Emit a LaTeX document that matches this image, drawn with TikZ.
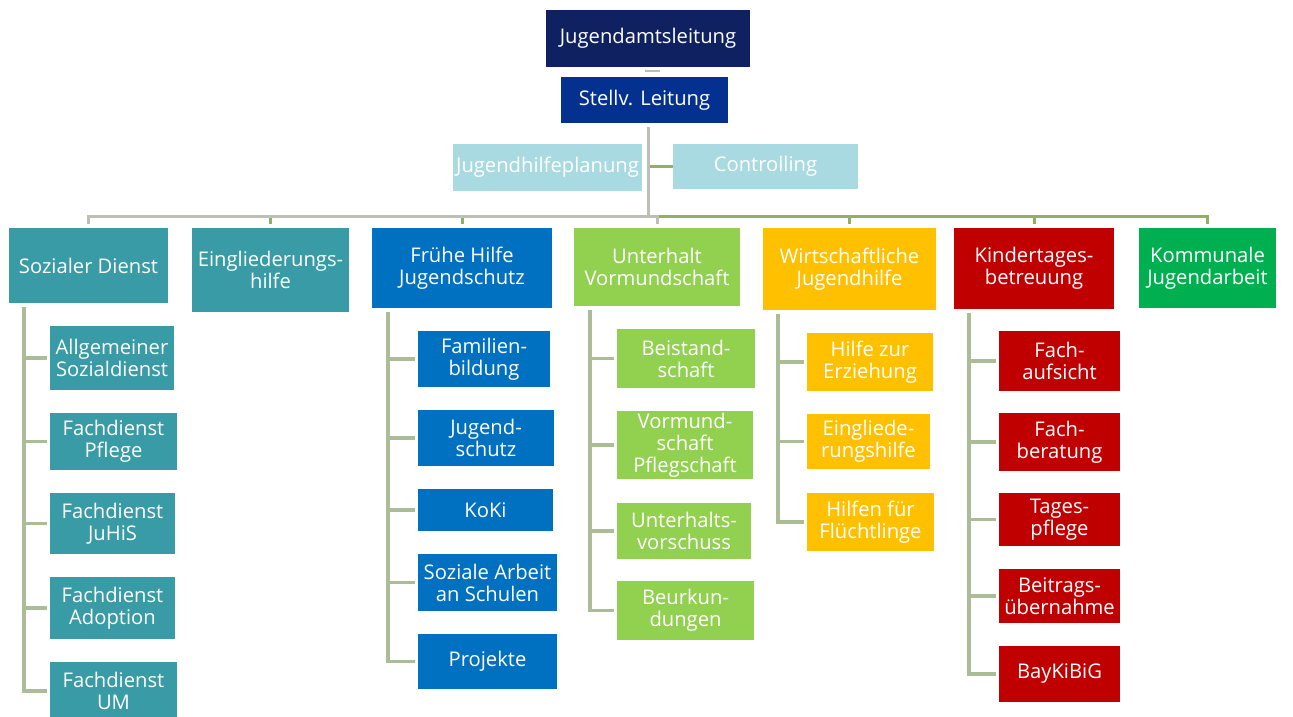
\documentclass[tikz,border=0pt]{standalone}
\usepackage{fontspec}
\setmainfont{Open Sans}
\usetikzlibrary{calc}
\definecolor{navy}{HTML}{0F2160}
\definecolor{royal}{HTML}{04308F}
\definecolor{pale}{HTML}{A9DAE2}
\definecolor{jteal}{HTML}{389BA5}
\definecolor{jblue}{HTML}{0070C0}
\definecolor{lime}{HTML}{92D050}
\definecolor{gold}{HTML}{FFC000}
\definecolor{jred}{HTML}{C00000}
\definecolor{jgreen}{HTML}{00B050}
\definecolor{busgraycol}{HTML}{BDBFB7}
\definecolor{busgreencol}{HTML}{94AF62}
\definecolor{sublinecol}{HTML}{ABBD97}
\tikzset{
  org/.style={text=white, align=center, inner sep=0pt,
    font=\fontsize{20.2}{22}\selectfont},
  busgray/.style={draw=busgraycol, line width=3pt},
  busgreen/.style={draw=busgreencol, line width=3pt, shorten >=4pt},
  subline/.style={draw=sublinecol, line width=3.5pt, shorten <=4pt, shorten >=3pt}
}

\begin{document}
\begin{tikzpicture}[x=1pt,y=-1pt]
\useasboundingbox (0,0) rectangle (1293,716);
%Leitung
\node[org, fill=navy, minimum width=204, minimum height=57] (jal) at (648, 38.5) {Jugendamtsleitung};
\node[org, fill=royal, minimum width=167, minimum height=46] (stv) at (644.5, 100) {Stellv. Leitung};
\node[org, fill=pale, minimum width=189, minimum height=47] (jhp) at (547.5, 167.5) {Jugendhilfeplanung};
\node[org, fill=pale, minimum width=185, minimum height=45] (ctl) at (765.5, 166.5) {Controlling};
%Abteilungen
\node[org, fill=jteal, minimum width=159, minimum height=75] (soz) at (88.5, 265.5) {Sozialer Dienst};
\node[org, fill=jteal, minimum width=157, minimum height=84] (egh) at (270.5, 270) {Eingliederungs-\\hilfe};
\node[org, fill=jblue, minimum width=180, minimum height=80] (fhj) at (462, 268) {Frühe Hilfe\\Jugendschutz};
\node[org, fill=lime, minimum width=166, minimum height=78] (uvm) at (657, 267) {Unterhalt\\Vormundschaft};
\node[org, fill=gold, minimum width=173, minimum height=82] (wjh) at (849.5, 269) {Wirtschaftliche\\Jugendhilfe};
\node[org, fill=jred, minimum width=160, minimum height=81] (kita) at (1034, 268.5) {Kindertages-\\betreuung};
\node[org, fill=jgreen, minimum width=137, minimum height=80] (kja) at (1207.5, 268) {Kommunale\\Jugendarbeit};
%Sozialer Dienst
\node[org, fill=jteal, minimum width=124, minimum height=64] (asd) at (112, 358) {Allgemeiner\\Sozialdienst};
\node[org, fill=jteal, minimum width=127, minimum height=57] (fdp) at (113.5, 441.5) {Fachdienst\\Pflege};
\node[org, fill=jteal, minimum width=125, minimum height=61] (fdj) at (112.5, 523.5) {Fachdienst\\JuHiS};
\node[org, fill=jteal, minimum width=125, minimum height=62] (fda) at (112.5, 608) {Fachdienst\\Adoption};
\node[org, fill=jteal, minimum width=127, minimum height=58] (fdu) at (113.5, 691) {Fachdienst\\UM};
%Frühe Hilfe
\node[org, fill=jblue, minimum width=132, minimum height=56] (fam) at (484, 359) {Familien-\\bildung};
\node[org, fill=jblue, minimum width=136, minimum height=56] (jsz) at (486, 438) {Jugend-\\schutz};
\node[org, fill=jblue, minimum width=135, minimum height=42] (koki) at (485.5, 510) {KoKi};
\node[org, fill=jblue, minimum width=139, minimum height=57] (sas) at (487.5, 582.5) {Soziale Arbeit\\an Schulen};
\node[org, fill=jblue, minimum width=139, minimum height=55] (prj) at (487.5, 661.5) {Projekte};
%Unterhalt
\node[org, fill=lime, minimum width=138, minimum height=59] (bst) at (686, 358.5) {Beistand-\\schaft};
\node[org, fill=lime, minimum width=136, minimum height=68] (vps) at (685, 445) {Vormund-\\schaft\\Pflegschaft};
\node[org, fill=lime, minimum width=134, minimum height=56] (uvs) at (684, 531) {Unterhalts-\\vorschuss};
\node[org, fill=lime, minimum width=137, minimum height=59] (bku) at (685.5, 610.5) {Beurkun-\\dungen};
%Wirtschaftliche Jugendhilfe
\node[org, fill=gold, minimum width=126, minimum height=58] (hze) at (870, 362) {Hilfe zur\\Erziehung};
\node[org, fill=gold, minimum width=123, minimum height=55] (egr) at (868.5, 441.5) {Eingliede-\\rungshilfe};
\node[org, fill=gold, minimum width=127, minimum height=58] (hff) at (870.5, 522) {Hilfen für\\Flüchtlinge};
%Kindertagesbetreuung
\node[org, fill=jred, minimum width=121, minimum height=60] (fau) at (1059.5, 361) {Fach-\\aufsicht};
\node[org, fill=jred, minimum width=121, minimum height=58] (fbe) at (1059.5, 442) {Fach-\\beratung};
\node[org, fill=jred, minimum width=121, minimum height=53] (tpf) at (1059.5, 519.5) {Tages-\\pflege};
\node[org, fill=jred, minimum width=121, minimum height=54] (bue) at (1059.5, 596) {Beitrags-\\übernahme};
\node[org, fill=jred, minimum width=121, minimum height=56] (bkb) at (1059.5, 674) {BayKiBiG};
%Verbindungen
\coordinate (bus) at (648, 216);
\draw[busgray, line width=1.5pt] ($(jal.south)+(-3,4)$) -- ++(15,0);
\draw[busgreen, shorten >=0pt] (bus |- ctl.west) -- (ctl.west);
\foreach \d in {egh,fhj,wjh,kita,kja}
  \draw[busgreen] (bus) -| (\d.north);
\draw[busgray, shorten <=4pt] (stv.south -| bus) -- (bus);
\draw[busgray, shorten >=4pt] (bus) -| (soz.north);
\draw[busgray, shorten >=4pt] (bus) -| (uvm.north);
\foreach \c in {asd,fdp,fdj,fda,fdu}
  \draw[subline] ($(soz.south west)+(15,0)$) |- (\c.west);
\foreach \c in {fam,jsz,koki,sas,prj}
  \draw[subline] ($(fhj.south west)+(16,0)$) |- (\c.west);
\foreach \c in {bst,vps,uvs,bku}
  \draw[subline] ($(uvm.south west)+(16,0)$) |- (\c.west);
\foreach \c in {hze,egr,hff}
  \draw[subline] ($(wjh.south west)+(15,0)$) |- (\c.west);
\foreach \c in {fau,fbe,tpf,bue,bkb}
  \draw[subline] ($(kita.south west)+(15,0)$) |- (\c.west);
\end{tikzpicture}
\end{document}
